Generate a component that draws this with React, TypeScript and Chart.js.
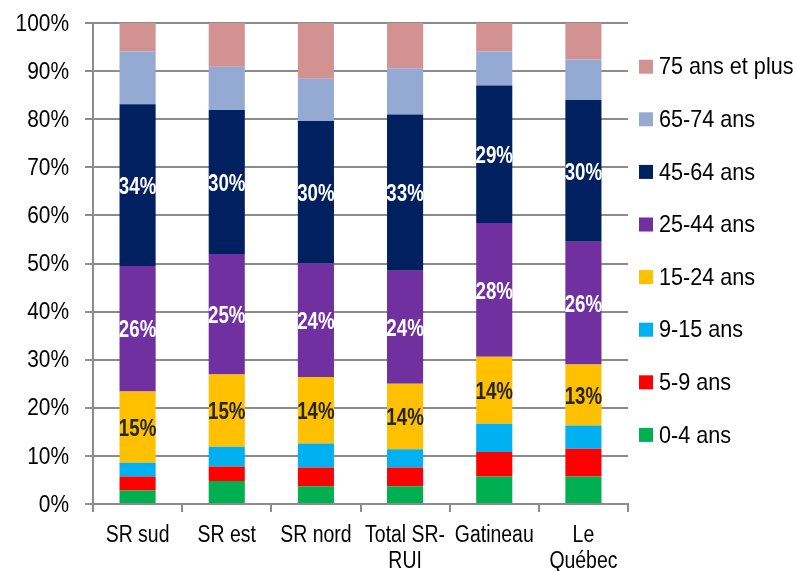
import React, { useEffect, useRef } from "react";
import { Chart, registerables } from "chart.js";

Chart.register(...registerables);

const categories: (string | string[])[] = [
  "SR sud",
  "SR est",
  "SR nord",
  ["Total SR-", "RUI"],
  "Gatineau",
  ["Le", "Québec"],
];

const seriesNames = [
  "0-4 ans",
  "5-9 ans",
  "9-15 ans",
  "15-24 ans",
  "25-44 ans",
  "45-64 ans",
  "65-74 ans",
  "75 ans et plus",
];

const age0to4 = [2.8, 4.8, 3.7, 3.7, 5.7, 5.7];
const age5to9 = [2.9, 3.0, 3.9, 3.9, 5.1, 5.8];
const age9to15 = [2.9, 4.1, 5.0, 3.8, 5.9, 4.8];
const age15to24 = [14.8, 15.0, 13.8, 13.6, 13.9, 12.7];
const age25to44 = [26.1, 25.1, 23.6, 23.5, 27.8, 25.5];
const age45to64 = [33.6, 29.9, 29.6, 32.5, 28.6, 29.5];
const age65to74 = [11.0, 9.0, 8.8, 9.6, 7.1, 8.4];
const age75plus = [5.9, 9.1, 11.6, 9.4, 5.9, 7.6];

const seriesValues = [
  age0to4,
  age5to9,
  age9to15,
  age15to24,
  age25to44,
  age45to64,
  age65to74,
  age75plus,
];

const seriesColors = [
  "#00B050",
  "#FF0000",
  "#00B0F0",
  "#FFC000",
  "#7030A0",
  "#002060",
  "#95AAD2",
  "#D39292",
];

const labelledSeries = [3, 4, 5];
const labelColors: Record<number, string> = { 3: "#262626", 4: "#FFFFFF", 5: "#FFFFFF" };

const yTicks = [0, 10, 20, 30, 40, 50, 60, 70, 80, 90, 100];

const FONT = '"Liberation Sans", Arial, sans-serif';
const GRID = "#8C8C8C";

// draws text horizontally condensed (Arial Narrow look)
function narrowText(
  ctx: CanvasRenderingContext2D,
  text: string,
  x: number,
  y: number,
  font: string,
  sx: number,
  align: CanvasTextAlign,
  baseline: CanvasTextBaseline,
  color: string
) {
  ctx.save();
  ctx.translate(x, y);
  ctx.scale(sx, 1);
  ctx.font = font;
  ctx.textAlign = align;
  ctx.textBaseline = baseline;
  ctx.fillStyle = color;
  ctx.fillText(text, 0, 0);
  ctx.restore();
}

const axisLabelPlugin = {
  id: "axisLabels",
  afterDraw(chart: any) {
    const ctx = chart.ctx;
    const ys = chart.scales.y;
    const xs = chart.scales.x;
    yTicks.forEach((v) => {
      const py = ys.getPixelForValue(v);
      narrowText(ctx, `${v}%`, ys.right - 24, py + 1, `24px ${FONT}`, 0.87, "right", "middle", "#000000");
    });
    (chart.data.labels as (string | string[])[]).forEach((lab, i) => {
      const px = xs.getPixelForValue(i);
      const lines = Array.isArray(lab) ? lab : [lab];
      lines.forEach((line, j) => {
        narrowText(ctx, line, px, xs.top + 37.5 + j * 26.5, `23px ${FONT}`, 0.845, "center", "alphabetic", "#000000");
      });
    });
  },
};

const dataLabelPlugin = {
  id: "segLabels",
  afterDatasetsDraw(chart: any) {
    const ctx = chart.ctx;
    labelledSeries.forEach((di) => {
      const meta = chart.getDatasetMeta(di);
      meta.data.forEach((el: any, i: number) => {
        const { x, y, base } = el.getProps(["x", "y", "base"], true);
        const v = chart.data.datasets[di].data[i] as number;
        narrowText(ctx, `${Math.round(v)}%`, x, (y + base) / 2 + 2, `bold 24px ${FONT}`, 0.78, "center", "middle", labelColors[di]);
      });
    });
  },
};

const legendPlugin = {
  id: "sideLegend",
  afterDraw(chart: any) {
    const ctx = chart.ctx;
    const ds = chart.data.datasets;
    const x0 = chart.chartArea.right + 11;
    const yStart = 66.7;
    const step = 52.6;
    for (let k = 0; k < ds.length; k++) {
      const d = ds[ds.length - 1 - k];
      const cy = yStart + k * step;
      ctx.save();
      ctx.fillStyle = d.backgroundColor;
      ctx.fillRect(x0, cy - 7, 14, 14);
      ctx.restore();
      narrowText(ctx, d.label, x0 + 20, cy + 1, `24px ${FONT}`, 0.9, "left", "middle", "#000000");
    }
  },
};

export default function App() {
  const ref = useRef<HTMLCanvasElement | null>(null);

  useEffect(() => {
    if (!ref.current) return;
    const chart = new Chart(ref.current, {
      type: "bar",
      data: {
        labels: categories,
        datasets: seriesNames.map((name, i) => ({
          label: name,
          data: seriesValues[i],
          backgroundColor: seriesColors[i],
          borderWidth: 0,
          barPercentage: 0.405,
          categoryPercentage: 1,
        })),
      },
      options: {
        responsive: false,
        animation: false,
        devicePixelRatio: 1,
        layout: { padding: { left: 0, right: 169, top: 23, bottom: 0 } },
        plugins: {
          legend: { display: false },
          tooltip: { enabled: false },
        },
        scales: {
          x: {
            stacked: true,
            grid: {
              display: true,
              drawOnChartArea: false,
              drawTicks: true,
              tickLength: 8,
              color: GRID,
              lineWidth: 2,
              offset: true,
            },
            border: { display: true, color: GRID, width: 2 },
            ticks: { display: false, autoSkip: false, maxRotation: 0 },
            afterFit(scale: any) {
              scale.height = 67;
            },
          },
          y: {
            stacked: true,
            min: 0,
            max: 100,
            afterBuildTicks(scale: any) {
              scale.ticks = yTicks.map((v) => ({ value: v }));
            },
            grid: {
              color: GRID,
              lineWidth: 2,
              drawTicks: true,
              tickLength: 8,
            },
            border: { display: true, color: GRID, width: 2 },
            ticks: { display: false },
            afterFit(scale: any) {
              scale.width = 93;
            },
          },
        },
      },
      plugins: [dataLabelPlugin, axisLabelPlugin, legendPlugin],
    });
    return () => chart.destroy();
  }, []);

  return (
    <div style={{ position: "fixed", left: 0, top: 0, width: 797, height: 571, background: "#FFFFFF" }}>
      <canvas ref={ref} width={797} height={571} style={{ display: "block" }} />
    </div>
  );
}
